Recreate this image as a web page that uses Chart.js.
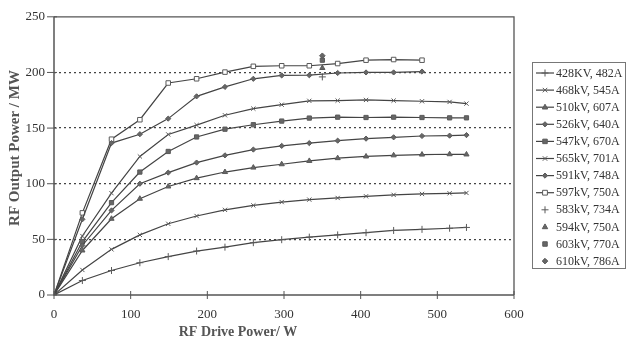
<!DOCTYPE html>
<html>
<head>
<meta charset="utf-8">
<script src="https://cdn.jsdelivr.net/npm/chart.js@4/dist/chart.umd.min.js"></script>
<style>
html,body{margin:0;padding:0;background:#fff;}
#wrap{width:626px;height:342px;position:relative;}
</style>
</head>
<body>
<div id="wrap"><canvas id="c" width="626" height="342"></canvas></div>
<script>
// ---- data ----
const drivePower = [0,37,75,112,149,186,223,260,297,333,370,407,443,480,516,538];
const xTicks = [0,100,200,300,400,500,600];
const yTicks = [0,50,100,150,200,250];
const seriesNames = ["428KV, 482A","468kV, 545A","510kV, 607A","526kV, 640A","547kV, 670A","565kV, 701A","591kV, 748A","597kV, 750A"];
const s428 = [0,13,22,29,34.5,39.5,43,47,49.7,52,54,56,58,59,60,60.7];
const s468 = [0,22.5,41,54,64,71,76.5,80.5,83.5,85.7,87.2,88.7,90,90.8,91.4,91.7];
const s510 = [0,40,68.5,86.5,97.5,105,110.5,114.5,117.5,120.5,123,124.5,125.5,126.2,126.5,126.3];
const s526 = [0,44.5,76,100,110,119,125.5,130.7,134,136.5,138.7,140.5,141.7,142.9,143.2,143.7];
const s547 = [0,48,83,110.5,129,142,149,153,156.3,159,159.8,159.5,159.8,159.5,159.2,159.2];
const s565 = [0,53,91.5,124.5,144.3,152.7,161.5,167.5,171,174.5,174.7,175.3,174.7,174.1,173.5,172];
const s591 = [0,68,136.5,144.5,158.5,178.5,187,194.3,197.3,197.5,199.5,200,200,200.8];
const s597 = [0,73.8,140,157.5,190.5,194.3,200.3,205.5,206,206,208,211,211.6,211];
const singleNames = ["583kV, 734A","594kV, 750A","603kV, 770A","610kV, 786A"];
const singleX = [350,350,350,350];
const singleY = [196,204,211,215];

const lineSeries = [s428,s468,s510,s526,s547,s565,s591,s597];
const lineStyles = [
  {ps:'cross',r:3.5,fill:'#555'},
  {ps:'crossRot',r:3,fill:'#555'},
  {ps:'triangle',r:3,fill:'#666'},
  {ps:'rectRot',r:2.6,fill:'#666'},
  {ps:'rect',r:3,fill:'#666'},
  {ps:'crossRot',r:3,fill:'#555'},
  {ps:'rectRot',r:2.6,fill:'#666'},
  {ps:'rect',r:3.2,fill:'#fff'}
];
const singleStyles = [
  {ps:'cross',r:3.5,fill:'#555'},
  {ps:'triangle',r:3,fill:'#666'},
  {ps:'rect',r:3,fill:'#666'},
  {ps:'rectRot',r:2.8,fill:'#666'}
];

const LINE = '#444';
const MARK = '#5a5a5a';
const FONT = '"Liberation Serif", "Times New Roman", serif';

const datasets = [];
lineSeries.forEach((arr,i)=>{
  datasets.push({
    label: seriesNames[i],
    data: arr.map((v,j)=>({x: drivePower[j], y: v})),
    borderColor: LINE,
    borderWidth: 1.2,
    pointStyle: lineStyles[i].ps,
    pointRadius: lineStyles[i].r,
    pointBackgroundColor: lineStyles[i].fill,
    pointBorderColor: MARK,
    pointBorderWidth: 1,
    tension: 0,
    fill: false
  });
});
singleNames.forEach((n,i)=>{
  datasets.push({
    label: n,
    data: [{x: singleX[i], y: singleY[i]}],
    showLine: false,
    borderColor: MARK,
    pointStyle: singleStyles[i].ps,
    pointRadius: singleStyles[i].r,
    pointBackgroundColor: singleStyles[i].fill,
    pointBorderColor: MARK,
    pointBorderWidth: 1
  });
});

function drawMarker(ctx, style, r, fill, x, y){
  ctx.save();
  ctx.strokeStyle = MARK; ctx.fillStyle = fill; ctx.lineWidth = 1;
  ctx.beginPath();
  if(style==='cross'){
    ctx.moveTo(x-r,y); ctx.lineTo(x+r,y); ctx.moveTo(x,y-r); ctx.lineTo(x,y+r); ctx.stroke();
  } else if(style==='crossRot'){
    const d=r*0.75;
    ctx.moveTo(x-d,y-d); ctx.lineTo(x+d,y+d); ctx.moveTo(x+d,y-d); ctx.lineTo(x-d,y+d); ctx.stroke();
  } else if(style==='triangle'){
    ctx.moveTo(x,y-r); ctx.lineTo(x+r*0.9,y+r*0.6); ctx.lineTo(x-r*0.9,y+r*0.6); ctx.closePath(); ctx.fill(); ctx.stroke();
  } else if(style==='rectRot'){
    ctx.moveTo(x,y-r); ctx.lineTo(x+r,y); ctx.lineTo(x,y+r); ctx.lineTo(x-r,y); ctx.closePath(); ctx.fill(); ctx.stroke();
  } else if(style==='rect'){
    const d=r*0.75;
    ctx.rect(x-d,y-d,2*d,2*d); ctx.fill(); ctx.stroke();
  }
  ctx.restore();
}

const decor = {
  id:'decor',
  afterDraw(chart){
    const ctx = chart.ctx;
    const a = chart.chartArea;
    const xs = chart.scales.x, ys = chart.scales.y;
    ctx.save();
    ctx.setLineDash([]);
    // top and right border
    ctx.strokeStyle = '#555'; ctx.lineWidth = 1.3;
    ctx.beginPath();
    ctx.moveTo(a.left, a.top); ctx.lineTo(a.right, a.top); ctx.lineTo(a.right, a.bottom);
    ctx.stroke();
    // left and bottom axis lines
    ctx.lineWidth = 1.5;
    ctx.beginPath();
    ctx.moveTo(a.left, a.top); ctx.lineTo(a.left, a.bottom); ctx.lineTo(a.right, a.bottom);
    ctx.stroke();
    // tick marks
    ctx.lineWidth = 1;
    ctx.beginPath();
    xTicks.forEach(v=>{ const px = xs.getPixelForValue(v); ctx.moveTo(px, a.bottom-4); ctx.lineTo(px, a.bottom+4); });
    yTicks.forEach(v=>{ const py = ys.getPixelForValue(v); ctx.moveTo(a.left-7, py); ctx.lineTo(a.left+3, py); });
    ctx.stroke();
    // axis titles
    ctx.fillStyle = '#555';
    ctx.font = 'bold 14px ' + FONT;
    ctx.textAlign = 'center'; ctx.textBaseline = 'middle';
    ctx.fillText('RF Drive Power/ W', 238, 332);
    ctx.save();
    ctx.translate(15, 148); ctx.rotate(-Math.PI/2);
    ctx.font = 'bold 15px ' + FONT;
    ctx.fillText('RF Output Power / MW', 0, 0);
    ctx.restore();
    // legend
    ctx.strokeStyle = '#777'; ctx.lineWidth = 1;
    ctx.strokeRect(532.5, 62.5, 93, 206);
    ctx.font = '12px ' + FONT;
    ctx.textAlign = 'left'; ctx.textBaseline = 'middle';
    const allNames = seriesNames.concat(singleNames);
    const allStyles = lineStyles.concat(singleStyles);
    allNames.forEach((n,i)=>{
      const y = 73 + i*17.1;
      if(i < seriesNames.length){
        ctx.strokeStyle = LINE; ctx.lineWidth = 1.2;
        ctx.beginPath(); ctx.moveTo(536, y); ctx.lineTo(554, y); ctx.stroke();
      }
      drawMarker(ctx, allStyles[i].ps, allStyles[i].r, allStyles[i].fill, 545, y);
      ctx.fillStyle = '#333';
      ctx.fillText(n, 556, y+0.5);
    });
    ctx.restore();
  }
};

new Chart(document.getElementById('c'), {
  type: 'line',
  data: { datasets },
  options: {
    responsive: false,
    animation: false,
    devicePixelRatio: 1,
    layout: { padding: { top: 15, right: 112, left: 0, bottom: 0 } },
    plugins: { legend: { display: false }, tooltip: { enabled: false } },
    scales: {
      x: {
        type: 'linear', min: 0, max: 600,
        afterFit(s){ s.height = 47; },
        ticks: { stepSize: 100, padding: 12, color: '#333', font: { family: FONT, size: 13 } },
        grid: { drawOnChartArea: false, drawTicks: false },
        border: { display: false }
      },
      y: {
        type: 'linear', min: 0, max: 250,
        afterFit(s){ s.width = 54; },
        ticks: { stepSize: 50, padding: 9, color: '#333', font: { family: FONT, size: 13 } },
        grid: {
          drawTicks: false,
          color: (c)=> (c.tick && (c.tick.value===0 || c.tick.value===250)) ? 'rgba(0,0,0,0)' : '#444',
          lineWidth: 1.2
        },
        border: { display: false, dash: [2,3] }
      }
    }
  },
  plugins: [decor]
});
</script>
</body>
</html>
